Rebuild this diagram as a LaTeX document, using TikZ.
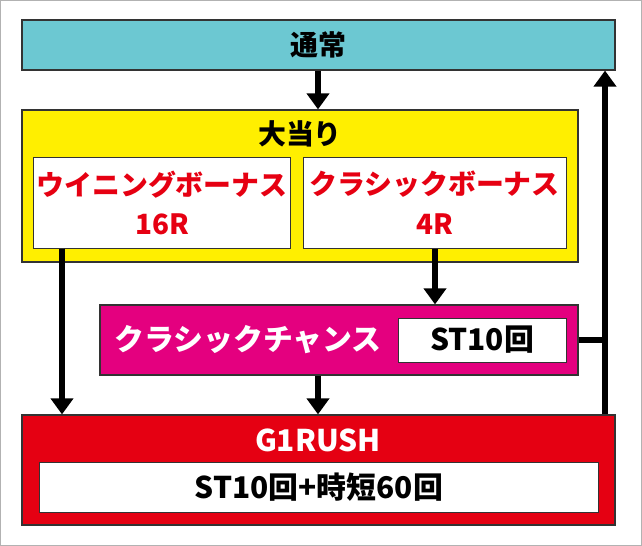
\documentclass[tikz,border=0pt]{standalone}
\usepackage{fontspec}
\setmainfont{Noto Sans CJK JP}[BoldFont={Noto Sans CJK JP Black}]
\usetikzlibrary{arrows.meta}
\definecolor{teal1}{HTML}{6CC8D2}
\definecolor{yel}{HTML}{FFEF00}
\definecolor{mag}{HTML}{E4007F}
\definecolor{rd}{HTML}{E50012}
\definecolor{txtred}{HTML}{E60012}
\tikzset{
 box/.style={draw=black!80,line width=1.2bp,inner sep=0},
 wbox/.style={draw=black!80,line width=1bp,fill=white,inner sep=0},
 arr/.style={line width=6bp,-{Triangle[length=16bp,width=22bp]}},
 ln/.style={line width=6bp},
 tx/.style={font=\bfseries\fontsize{28}{40}\selectfont,inner sep=0},
 bx/.style={font=\bfseries\fontsize{30}{40}\selectfont,inner sep=0},
}
\begin{document}
\begin{tikzpicture}[x=1bp,y=-1bp]
\path[draw=black!30,fill=white,line width=1bp] (0.5,0.5) rectangle (641.5,545.5);
\useasboundingbox (0,0) rectangle (642,546);
\node[box,fill=teal1,minimum width=593bp,minimum height=50bp] (top) at (318.5,45) {};
\node[tx] at (top) {通常};
\node[box,fill=yel,minimum width=556bp,minimum height=152bp] (yb) at (300,186) {};
\node[tx] at (300,134) {大当り};
\node[wbox,minimum width=256bp,minimum height=90bp] (wb) at (162,203) {};
\node[tx,text=txtred,align=center] at (wb) {ウイニングボーナス\\16R};
\node[wbox,minimum width=263bp,minimum height=90bp] (cb) at (434.5,203) {};
\node[tx,text=txtred,align=center] at (cb) {クラシックボーナス\\4R};
\node[box,fill=mag,minimum width=478bp,minimum height=70bp] (cc) at (339,340) {};
\node[bx,text=white] at (248,340) {クラシックチャンス};
\node[wbox,minimum width=168bp,minimum height=44bp] (st) at (482,340) {};
\node[bx] at (st) {ST10回};
\node[box,fill=rd,minimum width=593bp,minimum height=110bp] (g1) at (318.5,470) {};
\node[bx,text=white] at (318,440) {G1RUSH};
\node[wbox,minimum width=558bp,minimum height=50bp] (gs) at (319,487) {};
\node[bx] at (gs) {ST10回+時短60回};
\draw[arr] (top.south -| 318,0) -- (yb.north -| 318,0);
\draw[arr] (cb.south -| 435,0) -- (cc.north -| 435,0);
\draw[arr] (wb.south -| 62,0) -- (g1.north -| 62,0);
\draw[arr] (cc.south -| 318,0) -- (g1.north -| 318,0);
\coordinate (r) at (605,340);
\draw[ln] (cc.east) -- (r);
\draw[arr] (g1.north -| 605,0) -- (top.south -| 605,0);
\end{tikzpicture}
\end{document}
